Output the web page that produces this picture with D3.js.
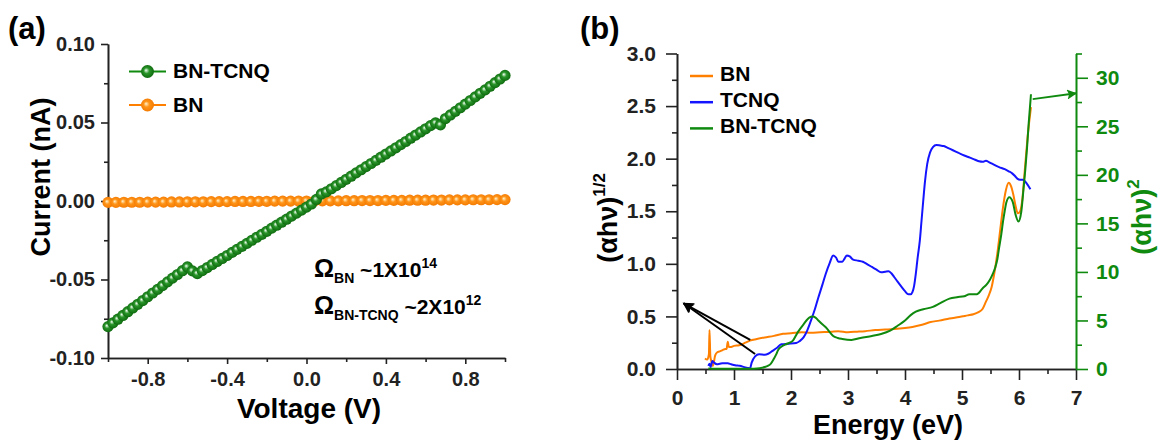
<!DOCTYPE html>
<html>
<head>
<meta charset="utf-8">
<script src="https://cdn.jsdelivr.net/npm/d3@7"></script>
<style>
  body { margin: 0; background: #fff; }
  svg { font-family: "Liberation Sans", Arial, sans-serif; font-weight: bold; }
</style>
</head>
<body>
<svg id="chart" width="1158" height="441"></svg>
<script>
// ---- panel (a): I-V sweep ----
var voltsGreen = [-1,-0.975,-0.95,-0.925,-0.9,-0.875,-0.85,-0.825,-0.8,-0.775,-0.75,-0.725,-0.7,-0.675,-0.65,-0.625,-0.6,-0.575,-0.55,-0.525,-0.5,-0.475,-0.45,-0.425,-0.4,-0.375,-0.35,-0.325,-0.3,-0.275,-0.25,-0.225,-0.2,-0.175,-0.15,-0.125,-0.1,-0.075,-0.05,-0.025,0,0.025,0.05,0.075,0.1,0.125,0.15,0.175,0.2,0.225,0.25,0.275,0.3,0.325,0.35,0.375,0.4,0.425,0.45,0.475,0.5,0.525,0.55,0.575,0.6,0.625,0.65,0.675,0.7,0.725,0.75,0.775,0.8,0.825,0.85,0.875,0.9,0.925,0.95,0.975,1]
var currentGreen = [-0.0800,-0.0776,-0.0753,-0.0729,-0.0705,-0.0681,-0.0658,-0.0634,-0.0610,-0.0586,-0.0563,-0.0539,-0.0515,-0.0491,-0.0468,-0.0444,-0.0420,-0.0445,-0.0462,-0.0443,-0.0424,-0.0404,-0.0385,-0.0366,-0.0347,-0.0327,-0.0308,-0.0289,-0.0270,-0.0250,-0.0231,-0.0212,-0.0193,-0.0173,-0.0154,-0.0135,-0.0116,-0.0096,-0.0077,-0.0058,-0.0039,-0.0019,0.0010,0.0045,0.0058,0.0078,0.0098,0.0118,0.0138,0.0158,0.0179,0.0199,0.0219,0.0239,0.0259,0.0279,0.0299,0.0319,0.0339,0.0359,0.0379,0.0400,0.0420,0.0440,0.0460,0.0480,0.0497,0.0485,0.0525,0.0548,0.0571,0.0594,0.0617,0.0640,0.0663,0.0686,0.0708,0.0731,0.0754,0.0777,0.0800]
var voltsOrange = [-1,-0.96,-0.92,-0.88,-0.84,-0.8,-0.76,-0.72,-0.68,-0.64,-0.6,-0.56,-0.52,-0.48,-0.44,-0.4,-0.36,-0.32,-0.28,-0.24,-0.2,-0.16,-0.12,-0.08,-0.04,0,0.04,0.08,0.12,0.16,0.2,0.24,0.28,0.32,0.36,0.4,0.44,0.48,0.52,0.56,0.6,0.64,0.68,0.72,0.76,0.8,0.84,0.88,0.92,0.96,1]
var currentOrange = [-0.0009,-0.0009,-0.0008,-0.0008,-0.0008,-0.0007,-0.0007,-0.0007,-0.0006,-0.0006,-0.0005,-0.0005,-0.0005,-0.0004,-0.0004,-0.0004,-0.0003,-0.0003,-0.0003,-0.0002,-0.0002,-0.0001,-0.0001,-0.0001,0,0,0,0.0001,0.0001,0.0001,0.0002,0.0002,0.0003,0.0003,0.0003,0.0004,0.0004,0.0004,0.0005,0.0005,0.0005,0.0006,0.0006,0.0007,0.0007,0.0007,0.0008,0.0008,0.0008,0.0009,0.0009]
var ivLegend = ["BN-TCNQ", "BN"]
var voltTicks = [-0.8, -0.4, 0, 0.4, 0.8]
var voltMinor = [-1, -0.6, -0.2, 0.2, 0.6, 1]
var currTicks = [-0.1, -0.05, 0, 0.05, 0.1]
var currMinor = [-0.075, -0.025, 0.025, 0.075]
var resist = [
  { sub: "BN", base: "~1X10", sup: "14" },
  { sub: "BN-TCNQ", base: "~2X10", sup: "12" }
]

// ---- panel (b): Tauc plots ----
var energyBN = [0.49,0.53,0.56,0.57,0.585,0.60,0.63,0.67,0.71,0.76,0.80,0.85,0.87,0.89,0.91,0.95,1.0,1.09,1.2,1.28,1.4,1.54,1.7,1.86,2.0,2.19,2.35,2.51,2.7,2.83,3.0,3.16,3.3,3.48,3.65,3.81,4.0,4.13,4.3,4.45,4.6,4.78,4.95,5.10,5.20,5.29,5.36,5.42,5.47,5.52,5.57,5.62,5.67,5.72,5.77,5.82,5.86,5.90,5.94,5.98,6.02,6.06,6.10,6.15,6.21]
var taucBN = [0.10,0.09,0.14,0.37,0.12,0.08,0.03,0.13,0.16,0.17,0.18,0.19,0.19,0.26,0.21,0.21,0.22,0.225,0.25,0.27,0.285,0.30,0.315,0.335,0.34,0.35,0.345,0.35,0.355,0.36,0.35,0.355,0.36,0.37,0.375,0.38,0.39,0.40,0.42,0.447,0.46,0.48,0.495,0.51,0.52,0.54,0.57,0.64,0.70,0.78,0.92,1.10,1.32,1.54,1.70,1.77,1.74,1.66,1.55,1.48,1.50,1.62,1.88,2.20,2.49]
var energyTCNQ = [0.55,0.57,0.59,0.62,0.65,0.70,0.75,0.80,0.89,0.95,1.02,1.1,1.2,1.25,1.28,1.31,1.37,1.44,1.54,1.60,1.67,1.75,1.83,1.96,2.09,2.15,2.22,2.28,2.35,2.42,2.48,2.55,2.61,2.68,2.74,2.79,2.83,2.90,2.94,2.98,3.03,3.09,3.18,3.26,3.34,3.42,3.50,3.58,3.65,3.71,3.76,3.81,3.87,3.94,4.0,4.06,4.10,4.13,4.16,4.19,4.22,4.26,4.29,4.32,4.35,4.39,4.44,4.49,4.55,4.62,4.68,4.76,4.84,4.94,5.04,5.14,5.23,5.30,5.36,5.42,5.48,5.55,5.65,5.75,5.82,5.88,5.93,5.97,6.02,6.07,6.14,6.20]
var taucTCNQ = [0.03,0.05,0.02,0.075,0.06,0.045,0.05,0.055,0.055,0.045,0.035,0.03,0.015,0.01,0.005,0.06,0.12,0.14,0.136,0.145,0.17,0.20,0.235,0.24,0.247,0.265,0.30,0.36,0.46,0.57,0.68,0.80,0.906,1.01,1.08,1.06,1.02,1.02,1.05,1.08,1.07,1.04,1.03,1.02,0.995,0.97,0.945,0.92,0.925,0.93,0.91,0.875,0.83,0.78,0.74,0.71,0.71,0.73,0.79,0.906,1.05,1.22,1.41,1.60,1.78,1.95,2.06,2.11,2.13,2.125,2.12,2.10,2.08,2.055,2.03,2.01,1.99,1.975,1.97,1.98,1.965,1.945,1.92,1.90,1.88,1.86,1.835,1.81,1.80,1.80,1.76,1.71]
var energyMix = [0.55,0.8,1.0,1.2,1.35,1.45,1.54,1.60,1.64,1.70,1.74,1.77,1.80,1.83,1.93,2.03,2.12,2.22,2.32,2.38,2.43,2.48,2.55,2.61,2.68,2.74,2.82,2.90,3.06,3.22,3.42,3.58,3.74,3.87,4.00,4.10,4.19,4.32,4.49,4.61,4.78,4.91,5.04,5.13,5.26,5.36,5.43,5.49,5.54,5.58,5.62,5.65,5.69,5.72,5.75,5.78,5.83,5.89,5.94,5.99,6.04,6.08,6.11,6.14,6.17,6.21]
var taucMix = [0.05,0.02,0.02,0.02,0.03,0.08,0.2,0.35,0.5,1.05,1.5,1.9,2.15,2.3,2.6,2.9,3.8,4.6,5.3,5.4,5.3,5.0,4.6,4.3,3.8,3.4,3.2,3.1,3.0,3.2,3.4,3.6,3.95,4.45,5.0,5.55,5.9,6.15,6.4,6.75,7.25,7.4,7.5,7.7,7.7,8.3,8.7,9.2,9.8,10.4,11.3,12.45,13.9,15.2,16.3,17.2,17.7,17.2,15.9,15.2,16.2,18.6,20.5,22.7,25.3,28.3]
var taucLegend = ["BN", "TCNQ", "BN-TCNQ"]
var energyTicks = [0, 1, 2, 3, 4, 5, 6, 7]
var energyMinor = [0.5, 1.5, 2.5, 3.5, 4.5, 5.5, 6.5]
var leftTicks = [0, 0.5, 1, 1.5, 2, 2.5, 3]
var leftMinor = [0.25, 0.75, 1.25, 1.75, 2.25, 2.75]
var rightTicks = [0, 5, 10, 15, 20, 25, 30]
var rightMinor = [2.5, 7.5, 12.5, 17.5, 22.5, 27.5, 32.5]
// arrows in data units: [x0, y0, x1, y1]
var blackArrows = [[1.285, 0.276, 0.116, 0.625], [1.37, 0.143, 0.116, 0.625]]
var greenArrow = [6.24, 27.8, 7.0, 28.4]

var ORANGE = "#ff8000", BLUE = "#1414ff", GREEN = "#0f8a0f", AXIS = "#222"
var svg = d3.select("#chart")
var defs = svg.append("defs")

function ball(id, light, mid, dark) {
  var g = defs.append("radialGradient").attr("id", id)
    .attr("cx", "50%").attr("cy", "50%").attr("r", "55%").attr("fx", "38%").attr("fy", "40%")
  g.append("stop").attr("offset", "0%").attr("stop-color", light)
  g.append("stop").attr("offset", "40%").attr("stop-color", mid)
  g.append("stop").attr("offset", "100%").attr("stop-color", dark)
}
ball("ballGreen", "#f6fff6", "#2a962a", "#0a640a")
ball("ballOrange", "#fff3d0", "#ff9418", "#f27800")

function head(id, color, w, h) {
  defs.append("marker").attr("id", id).attr("viewBox", "0 0 10 10")
    .attr("refX", 9).attr("refY", 5).attr("markerWidth", w).attr("markerHeight", h)
    .attr("markerUnits", "userSpaceOnUse").attr("orient", "auto")
    .append("path").attr("d", "M0,0 L10,5 L0,10 L2,5 Z").attr("fill", color)
}
head("headBlack", "#000", 16, 11)
head("headGreen", GREEN, 15, 10)

function styleAxis(g, color, fs) {
  g.attr("font-family", null).attr("font-size", fs)
  g.selectAll("path,line").attr("stroke", color).attr("stroke-width", 1.6)
  g.selectAll("text").attr("fill", color)
}
function fixed(n) { return function(d) { return d.toFixed(n) } }

// ================= panel (a) =================
var xA = d3.scaleLinear().domain([-1, 1]).range([108, 505])
var yA = d3.scaleLinear().domain([-0.1, 0.1]).range([358, 44])

var gx = svg.append("g").attr("transform", "translate(0," + yA(-0.1) + ")")
  .call(d3.axisBottom(xA).tickValues(voltTicks).tickSize(6).tickSizeOuter(0).tickFormat(fixed(1)))
styleAxis(gx, AXIS, 20)
gx.selectAll("text").attr("dy", null).attr("y", 28)
var gxm = svg.append("g").attr("transform", "translate(0," + yA(-0.1) + ")")
  .call(d3.axisBottom(xA).tickValues(voltMinor).tickSize(4).tickSizeOuter(0).tickFormat(""))
styleAxis(gxm, AXIS, 20)

var gy = svg.append("g").attr("transform", "translate(" + xA(-1) + ",0)")
  .call(d3.axisLeft(yA).tickValues(currTicks).tickSize(7).tickSizeOuter(0).tickPadding(6).tickFormat(fixed(2)))
styleAxis(gy, AXIS, 20)
var gym = svg.append("g").attr("transform", "translate(" + xA(-1) + ",0)")
  .call(d3.axisLeft(yA).tickValues(currMinor).tickSize(4).tickSizeOuter(0).tickFormat(""))
styleAxis(gym, AXIS, 20)

var ivSeries = [
  { v: voltsOrange, i: currentOrange, color: ORANGE, fill: "url(#ballOrange)" },
  { v: voltsGreen, i: currentGreen, color: GREEN, fill: "url(#ballGreen)" }
]
var ivLine = d3.line().x(function(d) { return xA(d[0]) }).y(function(d) { return yA(d[1]) })
ivSeries.forEach(function(s) {
  var pts = s.v.map(function(v, k) { return [v, s.i[k]] })
  svg.append("path").datum(pts).attr("d", ivLine)
    .attr("fill", "none").attr("stroke", s.color).attr("stroke-width", 2)
  svg.append("g").selectAll("circle").data(pts).enter().append("circle")
    .attr("cx", function(d) { return xA(d[0]) })
    .attr("cy", function(d) { return yA(d[1]) })
    .attr("r", 5.6).attr("fill", s.fill)
})

// legend (a)
var legA = svg.append("g")
ivLegend.forEach(function(name, k) {
  var s = ivSeries[1 - k], y = 71.5 + k * 33.5
  legA.append("line").attr("x1", 129).attr("x2", 166).attr("y1", y).attr("y2", y)
    .attr("stroke", s.color).attr("stroke-width", 2)
  legA.append("circle").attr("cx", 147.5).attr("cy", y).attr("r", 6.5).attr("fill", s.fill)
  legA.append("text").attr("x", 173).attr("y", y + 6.5).attr("font-size", 21).text(name)
})

// resistance annotation
resist.forEach(function(r, k) {
  var t = svg.append("text").attr("x", 314).attr("y", 277 + k * 37).attr("font-size", 21)
  t.append("tspan").text("Ω").attr("font-size", 25)
  t.append("tspan").text(r.sub).attr("font-size", 14).attr("dy", 6)
  t.append("tspan").text(" " + r.base).attr("dy", -6)
  t.append("tspan").text(r.sup).attr("font-size", 14).attr("dy", -9)
})

svg.append("text").attr("transform", "translate(50,177) rotate(-90)")
  .attr("text-anchor", "middle").attr("font-size", 27).text("Current (nA)")
svg.append("text").attr("x", 309).attr("y", 418)
  .attr("text-anchor", "middle").attr("font-size", 28).text("Voltage (V)")
svg.append("text").attr("x", 8).attr("y", 39).attr("font-size", 31).text("(a)")

// ================= panel (b) =================
var xB = d3.scaleLinear().domain([0, 7]).range([677, 1076])
var yB = d3.scaleLinear().domain([0, 3]).range([369, 53.5])
var yB2 = d3.scaleLinear().domain([0, 32.5]).range([369, 53.5])

var bx = svg.append("g").attr("transform", "translate(0," + yB(0) + ")")
  .call(d3.axisBottom(xB).tickValues(energyTicks).tickSize(11).tickSizeOuter(0).tickFormat(fixed(0)))
styleAxis(bx, AXIS, 21)
bx.selectAll("text").attr("dy", null).attr("y", 36)
var bxm = svg.append("g").attr("transform", "translate(0," + yB(0) + ")")
  .call(d3.axisBottom(xB).tickValues(energyMinor).tickSize(5).tickSizeOuter(0).tickFormat(""))
styleAxis(bxm, AXIS, 21)

var by = svg.append("g").attr("transform", "translate(" + xB(0) + ",0)")
  .call(d3.axisLeft(yB).tickValues(leftTicks).tickSize(11).tickSizeOuter(0).tickPadding(10).tickFormat(fixed(1)))
styleAxis(by, AXIS, 21)
var bym = svg.append("g").attr("transform", "translate(" + xB(0) + ",0)")
  .call(d3.axisLeft(yB).tickValues(leftMinor).tickSize(5).tickSizeOuter(0).tickFormat(""))
styleAxis(bym, AXIS, 21)

var by2 = svg.append("g").attr("transform", "translate(" + xB(7) + ",0)")
  .call(d3.axisRight(yB2).tickValues(rightTicks).tickSize(12).tickSizeOuter(0).tickPadding(8).tickFormat(fixed(0)))
styleAxis(by2, GREEN, 21)
var by2m = svg.append("g").attr("transform", "translate(" + xB(7) + ",0)")
  .call(d3.axisRight(yB2).tickValues(rightMinor).tickSize(6).tickSizeOuter(0).tickFormat(""))
styleAxis(by2m, GREEN, 21)

var taucSeries = [
  { e: energyBN, a: taucBN, color: ORANGE, y: yB },
  { e: energyTCNQ, a: taucTCNQ, color: BLUE, y: yB },
  { e: energyMix, a: taucMix, color: GREEN, y: yB2 }
]
taucSeries.forEach(function(s) {
  var line = d3.line().x(function(d) { return xB(d[0]) }).y(function(d) { return s.y(d[1]) })
    .curve(d3.curveMonotoneX)
  svg.append("path").datum(s.e.map(function(e, k) { return [e, s.a[k]] }))
    .attr("d", line).attr("fill", "none").attr("stroke", s.color)
    .attr("stroke-width", 2).attr("stroke-linejoin", "round")
})

blackArrows.forEach(function(a) {
  svg.append("line").attr("x1", xB(a[0])).attr("y1", yB(a[1])).attr("x2", xB(a[2])).attr("y2", yB(a[3]))
    .attr("stroke", "#000").attr("stroke-width", 2).attr("marker-end", "url(#headBlack)")
})
svg.append("line").attr("x1", xB(greenArrow[0])).attr("y1", yB2(greenArrow[1]))
  .attr("x2", xB(greenArrow[2])).attr("y2", yB2(greenArrow[3]))
  .attr("stroke", GREEN).attr("stroke-width", 2).attr("marker-end", "url(#headGreen)")

// legend (b)
taucLegend.forEach(function(name, k) {
  var y = 76 + k * 26.2
  svg.append("line").attr("x1", 690).attr("x2", 713).attr("y1", y).attr("y2", y)
    .attr("stroke", taucSeries[k].color).attr("stroke-width", 2.5)
  svg.append("text").attr("x", 720).attr("y", y + 5).attr("font-size", 21).text(name)
})

var lt = svg.append("text").attr("transform", "translate(617,218) rotate(-90)")
  .attr("text-anchor", "middle").attr("font-size", 27)
lt.append("tspan").text("(αhν)")
lt.append("tspan").text("1/2").attr("font-size", 17).attr("dy", -12)
var rt = svg.append("text").attr("transform", "translate(1151,217) rotate(-90)")
  .attr("text-anchor", "middle").attr("font-size", 27).attr("fill", GREEN)
rt.append("tspan").text("(αhν)")
rt.append("tspan").text("2").attr("font-size", 17).attr("dy", -12)

svg.append("text").attr("x", 888).attr("y", 434)
  .attr("text-anchor", "middle").attr("font-size", 27).text("Energy (eV)")
svg.append("text").attr("x", 580).attr("y", 39).attr("font-size", 31).text("(b)")
</script>
</body>
</html>
